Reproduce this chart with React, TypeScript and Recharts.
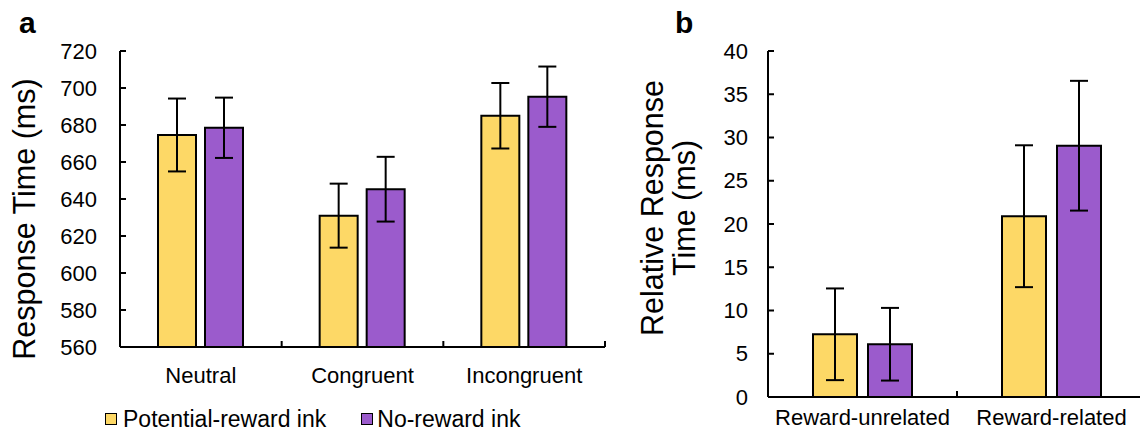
import React from 'react';
import { BarChart, Bar, XAxis, YAxis, ErrorBar, Legend } from 'recharts';

const FONT = '"Liberation Sans", Arial, Helvetica, sans-serif';
const YELLOW = '#FDD866';
const PURPLE = '#9B5BCC';

// Panel a
const conditions = ['Neutral', 'Congruent', 'Incongruent'];
const potentialA = [674.6, 631, 685];
const potentialAErr = [19.7, 17.3, 17.7];
const noRewardA = [678.5, 645.3, 695.3];
const noRewardAErr = [16.3, 17.5, 16.3];
const ticksA = [560, 580, 600, 620, 640, 660, 680, 700, 720];

// Panel b
const rewardTypes = ['Reward-unrelated', 'Reward-related'];
const potentialB = [7.25, 20.9];
const potentialBErr = [5.3, 8.2];
const noRewardB = [6.1, 29.05];
const noRewardBErr = [4.2, 7.5];
const ticksB = [0, 5, 10, 15, 20, 25, 30, 35, 40];

const seriesNames = ['Potential-reward ink', 'No-reward ink'];
const seriesColors = [YELLOW, PURPLE];

const dataA = conditions.map((c, i) => ({
  name: c,
  potential: potentialA[i],
  potentialErr: potentialAErr[i],
  noReward: noRewardA[i],
  noRewardErr: noRewardAErr[i],
}));

const dataB = rewardTypes.map((c, i) => ({
  name: c,
  potential: potentialB[i],
  potentialErr: potentialBErr[i],
  noReward: noRewardB[i],
  noRewardErr: noRewardBErr[i],
}));

const makeYTick = (gap: number) => (props: any) => {
  const { x, y, payload } = props;
  return (
    <g>
      <line x1={x} x2={x + 6} y1={y} y2={y} stroke="#000" strokeWidth={2} />
      <text
        x={x - gap}
        y={y}
        textAnchor="end"
        dominantBaseline="central"
        fontSize={22}
        fontFamily={FONT}
        fill="#000"
      >
        {payload.value}
      </text>
    </g>
  );
};

const makeXTick = (dy: number) => (props: any) => {
  const { x, y, payload } = props;
  const half = payload && payload.offset ? payload.offset : 0;
  return (
    <g>
      {half ? (
        <line x1={x + half} x2={x + half} y1={y} y2={y - 6} stroke="#000" strokeWidth={2} />
      ) : null}
      <text x={x} y={y + dy} textAnchor="middle" fontSize={22} fontFamily={FONT} fill="#000">
        {payload.value}
      </text>
    </g>
  );
};

const LabelA = (props: any) => {
  const vb = props.viewBox || { x: 0, y: 51, width: 120, height: 296 };
  const cy = vb.y + vb.height / 2 + 20;
  return (
    <g>
      <text x={19} y={33} fontSize={30} fontWeight="bold" fontFamily={FONT} fill="#000">
        a
      </text>
      <text
        x={35}
        y={cy}
        transform={`rotate(-90, 35, ${cy})`}
        textAnchor="middle"
        fontSize={30.5}
        fontFamily={FONT}
        fill="#000"
      >
        Response Time (ms)
      </text>
    </g>
  );
};

const LabelB = (props: any) => {
  const vb = props.viewBox || { x: 0, y: 51, width: 148, height: 346 };
  const cy = vb.y + vb.height / 2 - 16;
  return (
    <g>
      <text x={55} y={33} fontSize={30} fontWeight="bold" fontFamily={FONT} fill="#000">
        b
      </text>
      <text
        x={43}
        y={cy}
        transform={`rotate(-90, 43, ${cy})`}
        textAnchor="middle"
        fontSize={30.5}
        fontFamily={FONT}
        fill="#000"
      >
        Relative Response
      </text>
      <text
        x={75}
        y={cy}
        transform={`rotate(-90, 75, ${cy})`}
        textAnchor="middle"
        fontSize={30.5}
        fontFamily={FONT}
        fill="#000"
      >
        Time (ms)
      </text>
    </g>
  );
};

const LegendContent = () => {
  return (
    <div
      style={{
        display: 'flex',
        alignItems: 'center',
        fontFamily: FONT,
        fontSize: 23,
        lineHeight: '28px',
        height: 28,
        color: '#000',
        whiteSpace: 'nowrap',
      }}
    >
      {seriesNames.map((name, i) => (
        <div
          key={name}
          style={{ display: 'flex', alignItems: 'center', marginRight: i === 0 ? 35 : 0 }}
        >
          <span
            style={{
              display: 'inline-block',
              boxSizing: 'border-box',
              width: 12,
              height: 12,
              background: seriesColors[i],
              border: '1.5px solid #000',
              marginRight: i === 0 ? 6 : 4,
            }}
          />
          <span>{name}</span>
        </div>
      ))}
    </div>
  );
};

export default function App() {
  return (
    <div
      style={{
        position: 'absolute',
        left: 0,
        top: 0,
        width: 1140,
        height: 431,
        overflow: 'hidden',
        background: '#fff',
      }}
    >
      <div style={{ position: 'absolute', left: 0, top: 0 }}>
        <BarChart
          width={620}
          height={431}
          data={dataA}
          margin={{ top: 51, right: 15, bottom: 16, left: 0 }}
          barSize={38}
          barGap={9}
        >
          <XAxis
            dataKey="name"
            height={40}
            tickSize={0}
            tickMargin={0}
            tickLine={false}
            axisLine={{ stroke: '#000', strokeWidth: 2 }}
            tick={makeXTick(36)}
            interval={0}
          />
          <YAxis
            type="number"
            domain={[560, 720]}
            ticks={ticksA}
            width={120}
            tickSize={0}
            tickMargin={0}
            tickLine={false}
            axisLine={{ stroke: '#000', strokeWidth: 2 }}
            tick={makeYTick(23)}
            interval={0}
            allowDataOverflow
            label={(p: any) => <LabelA {...p} />}
          />
          <Legend
            verticalAlign="bottom"
            wrapperStyle={{
              position: 'absolute',
              left: 105,
              top: 405,
              bottom: 'auto',
              width: 480,
              height: 28,
            }}
            content={<LegendContent />}
          />
          <Bar
            dataKey="potential"
            name={seriesNames[0]}
            fill={YELLOW}
            stroke="#000"
            strokeWidth={2}
            isAnimationActive={false}
          >
            <ErrorBar dataKey="potentialErr" width={9} strokeWidth={2} stroke="#000" isAnimationActive={false} />
          </Bar>
          <Bar
            dataKey="noReward"
            name={seriesNames[1]}
            fill={PURPLE}
            stroke="#000"
            strokeWidth={2}
            isAnimationActive={false}
          >
            <ErrorBar dataKey="noRewardErr" width={9} strokeWidth={2} stroke="#000" isAnimationActive={false} />
          </Bar>
        </BarChart>
      </div>
      <div style={{ position: 'absolute', left: 620, top: 0 }}>
        <BarChart
          width={540}
          height={431}
          data={dataB}
          margin={{ top: 51, right: 14, bottom: 0, left: 0 }}
          barSize={44}
          barGap={11}
        >
          <XAxis
            dataKey="name"
            height={34}
            tickSize={0}
            tickMargin={0}
            tickLine={false}
            axisLine={{ stroke: '#000', strokeWidth: 2 }}
            tick={makeXTick(28)}
            interval={0}
          />
          <YAxis
            type="number"
            domain={[0, 40]}
            ticks={ticksB}
            width={148}
            tickSize={0}
            tickMargin={0}
            tickLine={false}
            axisLine={{ stroke: '#000', strokeWidth: 2 }}
            tick={makeYTick(20)}
            interval={0}
            label={(p: any) => <LabelB {...p} />}
          />
          <Bar
            dataKey="potential"
            name={seriesNames[0]}
            fill={YELLOW}
            stroke="#000"
            strokeWidth={2}
            isAnimationActive={false}
          >
            <ErrorBar dataKey="potentialErr" width={9} strokeWidth={2} stroke="#000" isAnimationActive={false} />
          </Bar>
          <Bar
            dataKey="noReward"
            name={seriesNames[1]}
            fill={PURPLE}
            stroke="#000"
            strokeWidth={2}
            isAnimationActive={false}
          >
            <ErrorBar dataKey="noRewardErr" width={9} strokeWidth={2} stroke="#000" isAnimationActive={false} />
          </Bar>
        </BarChart>
      </div>
    </div>
  );
}
